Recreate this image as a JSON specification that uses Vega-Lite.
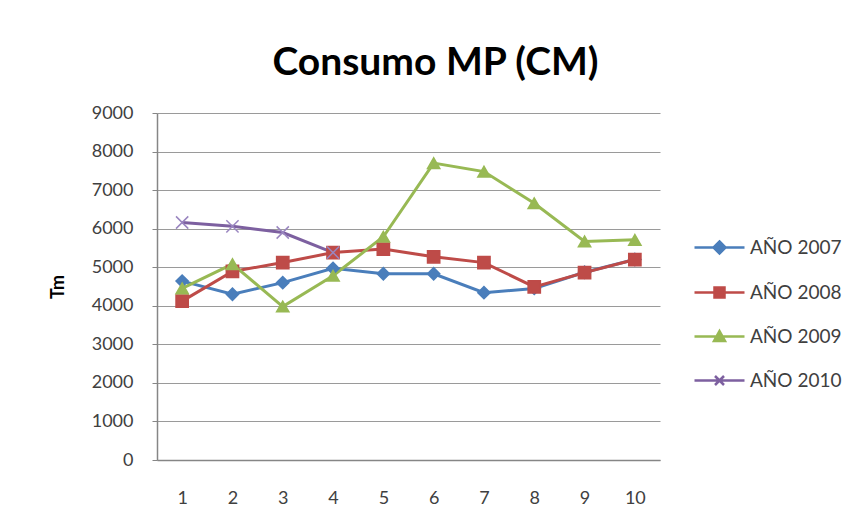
{
  "$schema": "https://vega.github.io/schema/vega-lite/v6.json",
  "autosize": {"type": "none"},
  "padding": {"left": 157, "top": 113, "right": 197, "bottom": 71},
  "width": 503,
  "height": 347,
  "background": "white",
  "config": {"view": {"stroke": null}},
  "title": {"text": "Consumo MP (CM)", "font": "Lato", "fontSize": 39, "fontWeight": "bold", "color": "#000000", "anchor": "middle", "dx": 27, "baseline": "alphabetic", "offset": -10},
  "data": {"values": [
    {"x": 1, "y": 4640, "serie": "AÑO 2007"},
    {"x": 2, "y": 4300, "serie": "AÑO 2007"},
    {"x": 3, "y": 4600, "serie": "AÑO 2007"},
    {"x": 4, "y": 4970, "serie": "AÑO 2007"},
    {"x": 5, "y": 4830, "serie": "AÑO 2007"},
    {"x": 6, "y": 4830, "serie": "AÑO 2007"},
    {"x": 7, "y": 4340, "serie": "AÑO 2007"},
    {"x": 8, "y": 4450, "serie": "AÑO 2007"},
    {"x": 9, "y": 4870, "serie": "AÑO 2007"},
    {"x": 10, "y": 5200, "serie": "AÑO 2007"},
    {"x": 1, "y": 4120, "serie": "AÑO 2008"},
    {"x": 2, "y": 4890, "serie": "AÑO 2008"},
    {"x": 3, "y": 5120, "serie": "AÑO 2008"},
    {"x": 4, "y": 5380, "serie": "AÑO 2008"},
    {"x": 5, "y": 5470, "serie": "AÑO 2008"},
    {"x": 6, "y": 5270, "serie": "AÑO 2008"},
    {"x": 7, "y": 5120, "serie": "AÑO 2008"},
    {"x": 8, "y": 4490, "serie": "AÑO 2008"},
    {"x": 9, "y": 4860, "serie": "AÑO 2008"},
    {"x": 10, "y": 5200, "serie": "AÑO 2008"},
    {"x": 1, "y": 4450, "serie": "AÑO 2009"},
    {"x": 2, "y": 5080, "serie": "AÑO 2009"},
    {"x": 3, "y": 3980, "serie": "AÑO 2009"},
    {"x": 4, "y": 4780, "serie": "AÑO 2009"},
    {"x": 5, "y": 5790, "serie": "AÑO 2009"},
    {"x": 6, "y": 7700, "serie": "AÑO 2009"},
    {"x": 7, "y": 7480, "serie": "AÑO 2009"},
    {"x": 8, "y": 6660, "serie": "AÑO 2009"},
    {"x": 9, "y": 5670, "serie": "AÑO 2009"},
    {"x": 10, "y": 5710, "serie": "AÑO 2009"},
    {"x": 1, "y": 6160, "serie": "AÑO 2010"},
    {"x": 2, "y": 6060, "serie": "AÑO 2010"},
    {"x": 3, "y": 5900, "serie": "AÑO 2010"},
    {"x": 4, "y": 5380, "serie": "AÑO 2010"}
  ]},
  "encoding": {
    "x": {"field": "x", "type": "ordinal", "scale": {"paddingOuter": 0.5}, "axis": {"title": null, "labelAngle": 0, "ticks": false, "domainColor": "#868686", "domainWidth": 1.5, "labelFont": "Lato", "labelFontSize": 18, "labelColor": "#404040", "labelPadding": 29, "grid": false}},
    "y": {"field": "y", "type": "quantitative", "scale": {"domain": [0, 9000], "nice": false, "zero": true}, "axis": {"title": "Tm", "titleFont": "Lato", "titleFontSize": 18, "titleFontWeight": "bold", "titleColor": "#000000", "titlePadding": 24, "values": [0, 1000, 2000, 3000, 4000, 5000, 6000, 7000, 8000, 9000], "format": "d", "grid": true, "gridColor": "#9a9a9a", "gridWidth": 1.2, "domainColor": "#868686", "domainWidth": 1.5, "tickColor": "#868686", "tickSize": 5, "labelFont": "Lato", "labelFontSize": 18, "labelColor": "#404040", "labelPadding": 19}}
  },
  "layer": [
    {
      "mark": {"type": "line", "strokeWidth": 3},
      "encoding": {
        "color": {"field": "serie", "type": "nominal", "scale": {"domain": ["AÑO 2007", "AÑO 2008", "AÑO 2009", "AÑO 2010"], "range": ["#4a7ebb", "#be4b48", "#98b954", "#7d60a0"]}, "legend": null}
      }
    },
    {
      "mark": {"type": "point", "filled": true, "size": 150, "strokeWidth": 1.5, "opacity": 1},
      "encoding": {
        "color": {"field": "serie", "type": "nominal", "scale": {"domain": ["AÑO 2007", "AÑO 2008", "AÑO 2009", "AÑO 2010"], "range": ["#4a7ebb", "#be4b48", "#98b954", "#7d60a0"]}, "legend": null},
        "stroke": {"field": "serie", "type": "nominal", "scale": {"domain": ["AÑO 2007", "AÑO 2008", "AÑO 2009", "AÑO 2010"], "range": ["#4a7ebb", "#be4b48", "#98b954", "#9a86c0"]}, "legend": null},
        "shape": {"field": "serie", "type": "nominal", "scale": {"domain": ["AÑO 2007", "AÑO 2008", "AÑO 2009", "AÑO 2010"], "range": ["diamond", "square", "triangle-up", "M-1,-1L1,1M-1,1L1,-1"]}, "legend": null}
      }
    },
    {
      "transform": [{"filter": "datum.y < 0"}],
      "mark": {"type": "point", "filled": true, "opacity": 1, "strokeWidth": 2.5},
      "encoding": {
        "color": {"field": "serie", "type": "nominal", "scale": {"domain": ["AÑO 2007", "AÑO 2008", "AÑO 2009", "AÑO 2010"], "range": ["#4a7ebb", "#be4b48", "#98b954", "#7d60a0"]},
          "legend": {"title": null, "orient": "none", "legendX": 551, "legendY": 123, "padding": 0, "symbolSize": 400, "symbolStrokeWidth": 2.5, "labelOffset": 19, "rowPadding": 22, "labelFont": "Lato", "labelFontSize": 19, "labelColor": "#404040"}},
        "stroke": {"field": "serie", "type": "nominal", "scale": {"domain": ["AÑO 2007", "AÑO 2008", "AÑO 2009", "AÑO 2010"], "range": ["#4a7ebb", "#be4b48", "#98b954", "#7d60a0"]},
          "legend": {"title": null, "orient": "none", "legendX": 551, "legendY": 123, "padding": 0, "symbolSize": 400, "symbolStrokeWidth": 2.5, "labelOffset": 19, "rowPadding": 22, "labelFont": "Lato", "labelFontSize": 19, "labelColor": "#404040"}},
        "shape": {"field": "serie", "type": "nominal", "scale": {"domain": ["AÑO 2007", "AÑO 2008", "AÑO 2009", "AÑO 2010"], "range": ["M-2.5,0H2.5M0,-0.6L0.6,0L0,0.6L-0.6,0Z", "M-2.5,0H2.5M-0.5,-0.5H0.5V0.5H-0.5Z", "M-2.5,0H2.5M0,-0.55L0.55,0.45H-0.55Z", "M-2.5,0H2.5M-0.45,-0.45L0.45,0.45M-0.45,0.45L0.45,-0.45"]},
          "legend": {"title": null, "orient": "none", "legendX": 551, "legendY": 123, "padding": 0, "symbolSize": 400, "symbolStrokeWidth": 2.5, "labelOffset": 19, "rowPadding": 22, "labelFont": "Lato", "labelFontSize": 19, "labelColor": "#404040"}}
      }
    }
  ],
  "resolve": {"scale": {"shape": "independent", "color": "independent", "stroke": "independent"}}
}
